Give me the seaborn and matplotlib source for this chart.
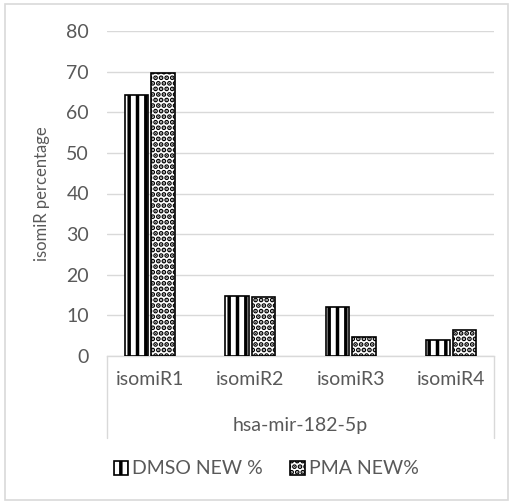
import matplotlib
matplotlib.use("Agg")
import matplotlib.pyplot as plt
import seaborn as sns
import pandas as pd
from matplotlib.patches import Rectangle, Patch

categories = ["isomiR1", "isomiR2", "isomiR3", "isomiR4"]
group_label = "hsa-mir-182-5p"
series_names = ["DMSO NEW %", "PMA NEW%"]
dmso = [64.3, 14.8, 12.1, 3.9]
pma = [69.6, 14.6, 4.8, 6.4]
yticks = [0, 10, 20, 30, 40, 50, 60, 70, 80]
ylabel = "isomiR percentage"

df = pd.DataFrame({
    "cat": categories * 2,
    "series": [series_names[0]] * 4 + [series_names[1]] * 4,
    "value": dmso + pma,
})

sns.set_theme(style="white")
plt.rcParams["font.family"] = ["Lato", "DejaVu Sans"]
plt.rcParams["hatch.linewidth"] = 2.5
plt.rcParams["hatch.color"] = "black"

txt = "#595959"
grid = "#d9d9d9"

fig = plt.figure(figsize=(5.13, 5.03), dpi=100)
ax = fig.add_axes([107/513, 1-356/503, (494-107)/513, (356-31)/503])

sns.barplot(data=df, x="cat", y="value", hue="series", order=categories,
            hue_order=series_names, palette=["white", "white"],
            edgecolor="black", linewidth=1.2, width=0.53, gap=0.12,
            ax=ax, legend=False, zorder=3)

hatches = ["||", "..."]
for container, h in zip(ax.containers, hatches):
    for bar in container:
        bar.set_hatch(h)

ax.set_ylim(0, 80)
ax.set_yticks(yticks)
ax.set_yticklabels([str(t) for t in yticks], fontsize=14, color=txt)
ax.set_xticklabels(categories, fontsize=14, color=txt)
ax.tick_params(axis="y", length=0, pad=13)
ax.tick_params(axis="x", length=0, pad=11)
ax.set_xlabel("")
ax.set_ylabel(ylabel, fontsize=12, color=txt)
ax.yaxis.set_label_coords((50 - 107) / 387, 0.5)
ax.yaxis.grid(True, color=grid, linewidth=1, zorder=0)
ax.set_axisbelow(True)
for s in ["top", "right", "left"]:
    ax.spines[s].set_visible(False)
ax.spines["bottom"].set_color(grid)
ax.spines["bottom"].set_linewidth(1)

# multi-level category axis decorations
trans = ax.transAxes
depth = (438 - 356) / (356 - 31)
for xv in (0, 1):
    ax.plot([xv, xv], [0, -depth], transform=trans, color=grid, lw=1, clip_on=False)
ax.text(0.5, -(425 - 356) / (356 - 31), group_label, transform=trans,
        ha="center", va="center", fontsize=14, color=txt)

handles = [Patch(facecolor="white", edgecolor="black", hatch=h, linewidth=1.2) for h in hatches]
leg = fig.legend(handles, series_names, loc="center", bbox_to_anchor=(266/513, 1-469/503),
                 ncol=2, frameon=False, fontsize=14, handlelength=0.75, handleheight=0.75,
                 handletextpad=0.2, columnspacing=1.4)
for t in leg.get_texts():
    t.set_color(txt)

fig.patches.append(Rectangle((5/513, 3/503), 503/513, 496/503, transform=fig.transFigure,
                             fill=False, edgecolor=grid, linewidth=1.2))

fig.savefig("out.png", dpi=100)
